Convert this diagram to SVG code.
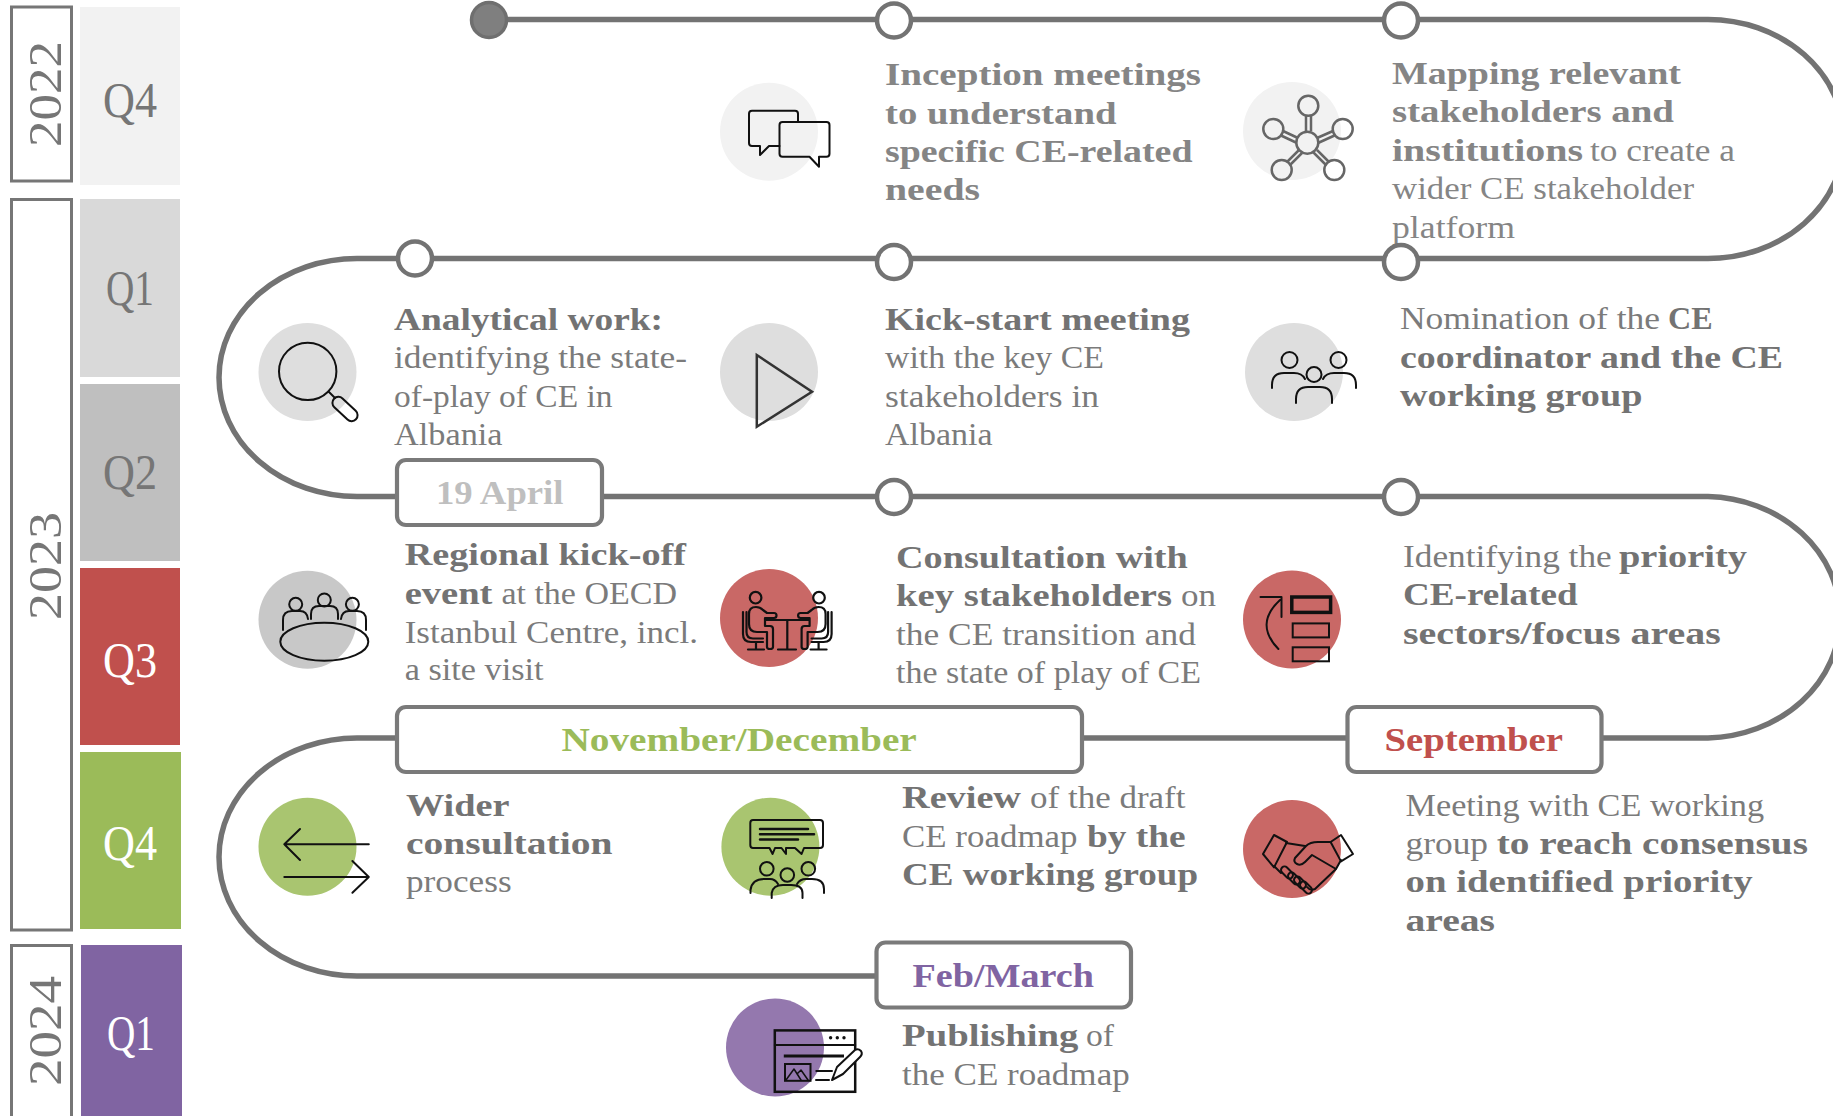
<svg xmlns="http://www.w3.org/2000/svg" width="1833" height="1116" viewBox="0 0 1833 1116">
<style>
text{font-family:"Liberation Serif","DejaVu Serif",serif;font-size:32px;fill:#767676}
.b{font-weight:700;fill:#737373}
.r{fill:#7b7b7b}
.l{fill:#858585}
.lab{font-weight:700;font-size:34px}
.q{font-size:50px}
.y{font-size:46px;text-anchor:middle}
.w{fill:#fff}
.yb{fill:none;stroke:#767676;stroke-width:3}
.track{fill:none;stroke:#737373;stroke-width:5.5}
.ms{fill:#fff;stroke:#737373;stroke-width:4.5}
.box{fill:#fff;stroke:#7a7a7a;stroke-width:4.2}
.ic{fill:none;stroke:#111;stroke-width:2;stroke-linecap:round;stroke-linejoin:round}
.gy{fill:none;stroke:#666;stroke-width:2.5}
</style>
<g id="quarters">
<rect x="80" y="7" width="100" height="178" fill="#f2f2f2"/>
<rect x="80" y="199" width="100" height="178" fill="#d9d9d9"/>
<rect x="80" y="384" width="100" height="177" fill="#bfbfbf"/>
<rect x="80" y="568" width="100" height="177" fill="#c0504d"/>
<rect x="80" y="752" width="101" height="177" fill="#9bbb59"/>
<rect x="81" y="945" width="101" height="171" fill="#8064a2"/>
<text class="q" x="103" y="117" textLength="54" lengthAdjust="spacingAndGlyphs">Q4</text>
<text class="q" x="106" y="305" textLength="48" lengthAdjust="spacingAndGlyphs">Q1</text>
<text class="q" x="103" y="489" textLength="54" lengthAdjust="spacingAndGlyphs">Q2</text>
<text class="q w" x="103" y="677" textLength="54" lengthAdjust="spacingAndGlyphs">Q3</text>
<text class="q w" x="103" y="860" textLength="54" lengthAdjust="spacingAndGlyphs">Q4</text>
<text class="q w" x="107" y="1050" textLength="48" lengthAdjust="spacingAndGlyphs">Q1</text>
</g>
<g id="years">
<rect class="yb" x="11.500" y="7" width="60" height="174"/>
<rect class="yb" x="11.500" y="199.500" width="60" height="730.500"/>
<rect class="yb" x="11.500" y="945.500" width="60" height="190"/>
<text class="y" transform="translate(61,94) rotate(-90)" textLength="106" lengthAdjust="spacingAndGlyphs">2022</text>
<text class="y" transform="translate(61,566) rotate(-90)" textLength="108" lengthAdjust="spacingAndGlyphs">2023</text>
<text class="y" transform="translate(61,1031) rotate(-90)" textLength="110" lengthAdjust="spacingAndGlyphs">2024</text>
</g>
<g id="connectors">
<path class="track" d="M489,19.500 H1708 A136,119.500 0 0 1 1708,258.500 H357 A138,119 0 0 0 357,496.500 H1708 A136,120.800 0 0 1 1708,738 H357 A138,119 0 0 0 357,976 H876"/>
</g>
<g id="start"><circle cx="489" cy="20" r="17.500" fill="#7f7f7f" stroke="#6f6f6f" stroke-width="3.500"/></g>

<g id="node-inception">
<circle class="ms" cx="894" cy="20.500" r="17"/>
<circle cx="769" cy="131.700" r="49" fill="#f2f2f2"/>
<path class="ic" d="M779.500,146 H769 L760,155 V146 H752 Q749,146 749,143 V113.700 Q749,110.700 752,110.700 H795 Q798,110.700 798,113.700 V122"/>
<path class="ic" d="M782.500,122 H826.500 Q829.500,122 829.500,125 V153.700 Q829.500,156.700 826.500,156.700 H819 V166.700 L809.500,156.700 H782.500 Q779.500,156.700 779.500,153.700 V125 Q779.500,122 782.500,122 Z"/>
<text class="b l" x="885" y="85" textLength="316" lengthAdjust="spacingAndGlyphs">Inception meetings</text>
<text class="b l" x="885" y="123.500" textLength="231.500" lengthAdjust="spacingAndGlyphs">to understand</text>
<text class="b l" x="885" y="162" textLength="307.500" lengthAdjust="spacingAndGlyphs">specific CE-related</text>
<text class="b l" x="885" y="200" textLength="95" lengthAdjust="spacingAndGlyphs">needs</text>
</g>

<g id="node-mapping">
<circle class="ms" cx="1401" cy="20.500" r="17"/>
<circle cx="1292" cy="131" r="49" fill="#f2f2f2"/>
<g class="gy">
<circle cx="1307.300" cy="142.700" r="11"/>
<circle cx="1308.300" cy="105.700" r="10"/>
<circle cx="1273.300" cy="129" r="10"/>
<circle cx="1342.700" cy="129" r="10"/>
<circle cx="1281.700" cy="170" r="10"/>
<circle cx="1334.300" cy="170" r="10"/>
<path d="M1306,116 V131.500 M1311,116 V131.500 M1283,131 L1298,138 M1281,135.500 L1297,143 M1333,131 L1317,138 M1334.500,135.500 L1318,143 M1287.500,161.500 L1299,150 M1290.500,164.500 L1302,153 M1328.500,161.500 L1317,150 M1325.500,164.500 L1313,152"/>
</g>
<text class="b l" x="1392" y="84" textLength="289" lengthAdjust="spacingAndGlyphs">Mapping relevant</text>
<text class="b l" x="1392" y="122" textLength="282" lengthAdjust="spacingAndGlyphs">stakeholders and</text>
<text class="b l" x="1392" y="161" textLength="191" lengthAdjust="spacingAndGlyphs">institutions</text>
<text class="r l" x="1590" y="161" textLength="145" lengthAdjust="spacingAndGlyphs">to create a</text>
<text class="r l" x="1392" y="199" textLength="302" lengthAdjust="spacingAndGlyphs">wider CE stakeholder</text>
<text class="r l" x="1392" y="238" textLength="123" lengthAdjust="spacingAndGlyphs">platform</text>
</g>

<g id="node-analytical">
<circle class="ms" cx="415" cy="258.500" r="17"/>
<circle cx="307.500" cy="372" r="49" fill="#dedede"/>
<circle class="ic" cx="307.700" cy="371.400" r="28.700"/>
<path class="ic" d="M329,392 L335,398"/>
<rect class="ic" x="330" y="403" width="30" height="12" rx="6" transform="rotate(43 345 409)"/>
<text class="b" x="394" y="330" textLength="269" lengthAdjust="spacingAndGlyphs">Analytical work:</text>
<text class="r" x="394" y="368" textLength="293" lengthAdjust="spacingAndGlyphs">identifying the state-</text>
<text class="r" x="394" y="407" textLength="218.500" lengthAdjust="spacingAndGlyphs">of-play of CE in</text>
<text class="r" x="394" y="445" textLength="108.500" lengthAdjust="spacingAndGlyphs">Albania</text>
</g>

<g id="node-kickstart">
<circle class="ms" cx="894" cy="262" r="17"/>
<circle cx="769" cy="372" r="49" fill="#dedede"/>
<path d="M756.800,355 L812,391.700 L756.800,426.700 Z" fill="none" stroke="#333" stroke-width="2.500"/>
<text class="b" x="885" y="330" textLength="305" lengthAdjust="spacingAndGlyphs">Kick-start meeting</text>
<text class="r" x="885" y="368" textLength="219" lengthAdjust="spacingAndGlyphs">with the key CE</text>
<text class="r" x="885" y="406.500" textLength="214" lengthAdjust="spacingAndGlyphs">stakeholders in</text>
<text class="r" x="885" y="445" textLength="107.500" lengthAdjust="spacingAndGlyphs">Albania</text>
</g>

<g id="node-nomination">
<circle class="ms" cx="1401" cy="262" r="17"/>
<circle cx="1294" cy="372" r="49" fill="#dedede"/>
<g class="ic" stroke="#333">
<circle cx="1289.500" cy="360" r="8"/><circle cx="1338.500" cy="360" r="8"/><circle cx="1314" cy="374.500" r="7.500"/>
<path d="M1272,388 V385 Q1272,373 1284,373 H1294 Q1302,373 1305,379"/>
<path d="M1356,388 V385 Q1356,373 1344,373 H1334 Q1326,373 1323,379"/>
<path d="M1296,403 V399 Q1296,387 1308,387 H1320 Q1332,387 1332,399 V403"/>
</g>
<text class="r" x="1400" y="329" textLength="260" lengthAdjust="spacingAndGlyphs">Nomination of the</text>
<text class="b" x="1668" y="329" textLength="44.600" lengthAdjust="spacingAndGlyphs">CE</text>
<text class="b" x="1400" y="368" textLength="383" lengthAdjust="spacingAndGlyphs">coordinator and the CE</text>
<text class="b" x="1400" y="406" textLength="242.500" lengthAdjust="spacingAndGlyphs">working group</text>
</g>

<g id="node-regional">
<rect class="box" x="397" y="460" width="205" height="65" rx="9"/>
<text class="lab" x="436" y="504" textLength="127.500" lengthAdjust="spacingAndGlyphs" style="fill:#bfbfbf">19 April</text>
<circle cx="307.500" cy="619.700" r="49" fill="#c8c8c8"/>
<g class="ic">
<ellipse cx="324.300" cy="641.700" rx="44" ry="19"/>
<circle cx="295.700" cy="604.300" r="6.500"/><circle cx="324.300" cy="600" r="6.500"/><circle cx="352.400" cy="604.300" r="6.500"/>
<path d="M283,630 V620 Q283,611 292,611 H300 Q307,611 308,619"/>
<path d="M311,619 V614 Q311,606 319,606 H330 Q338,606 338,614 V619"/>
<path d="M341,619 Q342,611 349,611 H357 Q366,611 366,620 V630"/>
</g>
<text class="b" x="404.700" y="565" textLength="281.300" lengthAdjust="spacingAndGlyphs">Regional kick-off</text>
<text class="b" x="404.700" y="604" textLength="87.700" lengthAdjust="spacingAndGlyphs">event</text>
<text class="r" x="501.400" y="604" textLength="175.600" lengthAdjust="spacingAndGlyphs">at the OECD</text>
<text class="r" x="404.700" y="642.700" textLength="293.300" lengthAdjust="spacingAndGlyphs">Istanbul Centre, incl.</text>
<text class="r" x="404.700" y="680" textLength="138.800" lengthAdjust="spacingAndGlyphs">a site visit</text>
</g>

<g id="node-consultation">
<circle class="ms" cx="894" cy="497" r="17"/>
<circle cx="769" cy="618" r="49" fill="#c96866"/>
<g class="ic" style="stroke-width:2.200">
<path d="M765,620 H809 M787.300,620 V649.500 M778,649.500 H796"/>
<circle cx="755.600" cy="597.700" r="5.800"/>
<path d="M749,614 Q749,607 756,607 Q760,607 763,610 L767,613 H774 A2.500,2.500 0 0 1 774,618 H765 V626 H770 Q773,626 773,629 V647 Q773,649 770,649 Q767,649 767,647 V632 H757 Q749,632 749,624 Z"/>
<path d="M743,612 V634 Q743,642 751,642 H763 M746.500,612 V632 Q746.500,638.500 753,638.500 H763"/>
<path d="M756,642 V649.500 M748,649.500 H764"/>
<g transform="translate(1574.600,0) scale(-1,1)">
<circle cx="755.600" cy="597.700" r="5.800"/>
<path d="M749,614 Q749,607 756,607 Q760,607 763,610 L767,613 H774 A2.500,2.500 0 0 1 774,618 H765 V626 H770 Q773,626 773,629 V647 Q773,649 770,649 Q767,649 767,647 V632 H757 Q749,632 749,624 Z"/>
<path d="M743,612 V634 Q743,642 751,642 H763 M746.500,612 V632 Q746.500,638.500 753,638.500 H763"/>
<path d="M756,642 V649.500 M748,649.500 H764"/>
</g>
</g>
<text class="b" x="896" y="567.500" textLength="291.800" lengthAdjust="spacingAndGlyphs">Consultation with</text>
<text class="b" x="896" y="606" textLength="276" lengthAdjust="spacingAndGlyphs">key stakeholders</text>
<text class="r" x="1181" y="606" textLength="35" lengthAdjust="spacingAndGlyphs">on</text>
<text class="r" x="896" y="644.700" textLength="300" lengthAdjust="spacingAndGlyphs">the CE transition and</text>
<text class="r" x="896" y="682.500" textLength="305" lengthAdjust="spacingAndGlyphs">the state of play of CE</text>
</g>

<g id="node-identifying">
<circle class="ms" cx="1401" cy="497" r="17"/>
<circle cx="1292" cy="619.500" r="49" fill="#c96866"/>
<rect x="1291.800" y="597" width="38.800" height="15.400" fill="none" stroke="#111" stroke-width="3.500"/>
<rect x="1292.700" y="623.400" width="36.300" height="14" fill="none" stroke="#111" stroke-width="2"/>
<rect x="1292.700" y="647.300" width="36.300" height="14" fill="none" stroke="#111" stroke-width="2"/>
<path class="ic" d="M1260.500,597 H1281.500 V617 M1280,600 Q1254,624 1278.400,649"/>
<text class="r" x="1403" y="567" textLength="208.700" lengthAdjust="spacingAndGlyphs">Identifying the</text>
<text class="b" x="1619" y="567" textLength="128" lengthAdjust="spacingAndGlyphs">priority</text>
<text class="b" x="1403" y="605" textLength="174.700" lengthAdjust="spacingAndGlyphs">CE-related</text>
<text class="b" x="1403" y="644" textLength="317.700" lengthAdjust="spacingAndGlyphs">sectors/focus areas</text>
</g>

<g id="node-wider">
<rect class="box" x="397" y="707" width="685" height="65" rx="9"/>
<text class="lab" x="561.400" y="751" textLength="355.400" lengthAdjust="spacingAndGlyphs" style="fill:#9bbb59">November/December</text>
<circle cx="307.500" cy="846.700" r="49" fill="#a9c570"/>
<path class="ic" d="M368.800,844.300 H284.300 L300,829 M284.300,844.300 L300,860 M284.300,877 H368.800 L352.400,861 M368.800,877 L352.400,892.700"/>
<text class="b" x="406" y="816" textLength="103.500" lengthAdjust="spacingAndGlyphs">Wider</text>
<text class="b" x="406" y="854" textLength="206.400" lengthAdjust="spacingAndGlyphs">consultation</text>
<text class="r" x="406" y="892" textLength="105.600" lengthAdjust="spacingAndGlyphs">process</text>
</g>

<g id="node-review">
<circle cx="770.400" cy="846.700" r="49" fill="#a9c570"/>
<g class="ic">
<path d="M753,820 H820 Q823,820 823,823 V845 Q823,848 820,848 H804 L801.600,854 L795,848 H786 L786,854 L781.500,848 H775 L772.600,854 L769.500,848 H753 Q750.300,848 750.300,845 V823 Q750.300,820 753,820 Z"/>
<path style="stroke-width:2.500" d="M760,829 H808 M760,834.300 H814 M760,839.400 H798"/>
<circle cx="766.800" cy="868.800" r="6.800"/><circle cx="787.300" cy="875" r="6.800"/><circle cx="808.300" cy="868.800" r="6.800"/>
<path d="M750.500,893 V890 Q752,879 764,879 H770 Q775,879 778,884"/>
<path d="M771.700,898 V893 Q773,885 783,885 H791 Q802.500,885 802.500,893 V898"/>
<path d="M797,884 Q800,879 806,879 H812 Q824,879 824,889 V893"/>
</g>
<text class="b" x="902" y="808" textLength="119" lengthAdjust="spacingAndGlyphs">Review</text>
<text class="r" x="1030" y="808" textLength="155.500" lengthAdjust="spacingAndGlyphs">of the draft</text>
<text class="r" x="902" y="846.800" textLength="175.500" lengthAdjust="spacingAndGlyphs">CE roadmap</text>
<text class="b" x="1087" y="846.800" textLength="98.500" lengthAdjust="spacingAndGlyphs">by the</text>
<text class="b" x="902" y="884.600" textLength="296" lengthAdjust="spacingAndGlyphs">CE working group</text>
</g>

<g id="node-meeting">
<rect class="box" x="1347.500" y="707" width="254" height="65" rx="9"/>
<text class="lab" x="1384.500" y="751" textLength="178.500" lengthAdjust="spacingAndGlyphs" style="fill:#c0504d">September</text>
<circle cx="1292" cy="849" r="49" fill="#c96866"/>
<g class="ic">
<path d="M1274,835 L1287,842 L1274,867.400 L1263,854 Z"/>
<path d="M1341,835 L1353,854 L1341,861.400 L1330.600,842 Z"/>
<path d="M1286,843 L1305,846 M1330.600,842 H1318 Q1310,842 1306,846 L1295,858 Q1293,862 1297,864 Q1301,866 1305,862 L1312,855 L1336,869 L1315,889 Q1310,891 1307,887 M1341,860 L1336,869 M1274,866 L1281,873"/>
<rect x="1280" y="869" width="14" height="7" rx="3.500" transform="rotate(45 1287 872.500)"/>
<rect x="1287" y="875" width="14" height="7" rx="3.500" transform="rotate(45 1294 878.500)"/>
<rect x="1293" y="879" width="14" height="7" rx="3.500" transform="rotate(45 1300 882.500)"/>
<rect x="1299" y="884" width="14" height="7" rx="3.500" transform="rotate(45 1306 887.500)"/>
</g>
<text class="r" x="1405.500" y="816" textLength="358.500" lengthAdjust="spacingAndGlyphs">Meeting with CE working</text>
<text class="r" x="1405.500" y="854" textLength="82.500" lengthAdjust="spacingAndGlyphs">group</text>
<text class="b" x="1496.700" y="854" textLength="311.300" lengthAdjust="spacingAndGlyphs">to reach consensus</text>
<text class="b" x="1405.500" y="892" textLength="347.200" lengthAdjust="spacingAndGlyphs">on identified priority</text>
<text class="b" x="1405.500" y="930.700" textLength="89.500" lengthAdjust="spacingAndGlyphs">areas</text>
</g>

<g id="node-publishing">
<rect class="box" x="876.500" y="942.500" width="254.500" height="65" rx="9"/>
<text class="lab" x="912.500" y="987" textLength="181.500" lengthAdjust="spacingAndGlyphs" style="fill:#8064a2">Feb/March</text>
<circle cx="775" cy="1047.500" r="49" fill="#9478ae"/>
<rect x="774.800" y="1030.400" width="80.400" height="61.400" fill="none" stroke="#111" stroke-width="2.500"/>
<path class="ic" d="M774.800,1045 H855.200"/>
<circle cx="830.600" cy="1037.800" r="1.700" fill="#111"/><circle cx="837.300" cy="1037.800" r="1.700" fill="#111"/><circle cx="844" cy="1037.800" r="1.700" fill="#111"/>
<path d="M783.800,1056 H844" stroke="#111" stroke-width="3" fill="none"/>
<rect x="785" y="1064" width="25.500" height="16.800" fill="none" stroke="#111" stroke-width="2"/>
<path class="ic" style="stroke-width:1.500" d="M786,1080 L794,1069 L801,1080 M797,1074 L801,1070 L808,1080"/>
<path class="ic" d="M816.300,1071 H832 M816,1080 H829"/>
<path d="M832,1080 L837,1067 L855,1050 Q858,1048 861,1051 Q863,1054 860,1057 L843,1074 Z" fill="#fff" stroke="#111" stroke-width="2" stroke-linejoin="round"/>
<text class="b" x="902" y="1046" textLength="176.400" lengthAdjust="spacingAndGlyphs">Publishing</text>
<text class="r" x="1086" y="1046" textLength="28" lengthAdjust="spacingAndGlyphs">of</text>
<text class="r" x="902" y="1084.500" textLength="227.700" lengthAdjust="spacingAndGlyphs">the CE roadmap</text>
</g>
</svg>
